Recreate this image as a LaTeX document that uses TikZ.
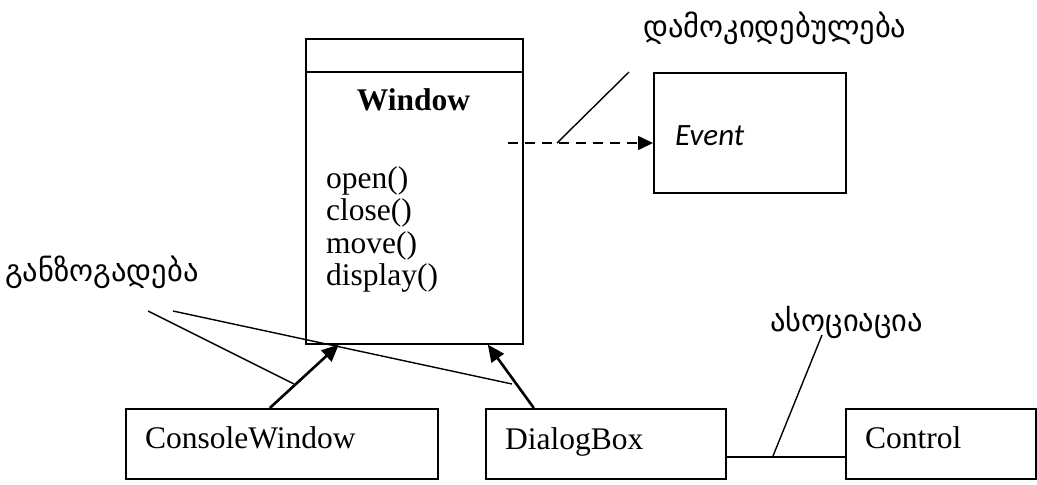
\documentclass[tikz,border=0pt]{standalone}
\usepackage{fontspec}
\setmainfont{Liberation Serif}
\newfontfamily\geofont{DejaVu Sans}
\newfontfamily\evfont{Carlito}
\usetikzlibrary{arrows.meta}
\tikzset{
  umlbox/.style={draw, line width=1.6pt, inner sep=0pt, anchor=north west},
  txt/.style={inner sep=0pt, font=\fontsize{31.5}{32.5}\selectfont},
  geolabel/.style={inner sep=0pt, anchor=base west, font=\geofont\fontsize{30.5}{33}\selectfont},
  leader/.style={line width=1.4pt},
  inherit/.style={line width=2.6pt, -{Triangle[length=17pt,width=15pt]}},
  depend/.style={line width=1.6pt, dash pattern=on 10pt off 7pt, -{Triangle[length=15pt,width=14pt]}},
  assoc/.style={line width=1.6pt}
}
\begin{document}
\begin{tikzpicture}[x=1pt,y=-1pt]
\useasboundingbox (0,0) rectangle (1037,485);

% class Window
\node[umlbox, minimum width=217pt, minimum height=305pt] (win) at (305,38) {};
\draw[line width=1.6pt] ([yshift=-34pt]win.north west) -- ([yshift=-34pt]win.north east);
\node[txt, anchor=base, font=\bfseries\fontsize{31.5}{32.5}\selectfont] (wintitle) at (413.5,110) {Window};
% operations, one line each
\node[txt, anchor=base west] (op1) at (326,188) {open()};
\node[txt, anchor=base west] (op2) at (326,220.5) {close()};
\node[txt, anchor=base west] (op3) at (326,253) {move()};
\node[txt, anchor=base west] (op4) at (326,285.5) {display()};

% class Event
\node[umlbox, minimum width=192pt, minimum height=120pt] (event) at (653,72) {};
\node[txt, anchor=base west, font=\evfont\itshape\fontsize{31}{33}\selectfont] (eventname) at (675,145) {Event};

% classes in the bottom row
\node[umlbox, minimum width=312pt, minimum height=70pt] (cw) at (125,408) {};
\node[txt, anchor=base west] (cwname) at (145,448) {ConsoleWindow};
\node[umlbox, minimum width=240pt, minimum height=70pt] (dlg) at (485,408) {};
\node[txt, anchor=base west] (dlgname) at (505,449) {DialogBox};
\node[umlbox, minimum width=190pt, minimum height=70pt] (ctrl) at (845,408) {};
\node[txt, anchor=base west] (ctrlname) at (865,448) {Control};

% dependency
\coordinate (depstart) at (508,143);
\coordinate (depknee) at (557,143);
\coordinate (deptop) at (629,72);
\draw[depend] (depstart) -- (depstart -| event.west);
\draw[leader] (depknee) -- (deptop);
\node[geolabel] (deplabel) at (643,37) {დამოკიდებულება};

% generalization
\coordinate (cwfrom) at ([xshift=-12pt]cw.north);
\coordinate (cwto) at ([xshift=-75.5pt]win.south);
\coordinate (dlgfrom) at ([xshift=-72pt]dlg.north);
\coordinate (dlgto) at ([xshift=73.5pt]win.south);
\draw[inherit] (cwfrom) -- (cwto);
\draw[inherit] (dlgfrom) -- (dlgto);
\coordinate (genA) at (148,311);
\coordinate (genB) at (173,311);
\coordinate (genAend) at (294,384);
\coordinate (genBend) at (512,384);
\draw[leader] (genA) -- (genAend);
\draw[leader] (genB) -- (genBend);
\node[geolabel] (genlabel) at (5,281) {განზოგადება};

% association
\coordinate (asA) at ([yshift=-13pt]dlg.east);
\draw[assoc] (asA) -- (asA -| ctrl.west);
\coordinate (asknee) at (773,456);
\coordinate (astop) at (822,335);
\draw[leader] (asknee) -- (astop);
\node[geolabel] (aslabel) at (770,331) {ასოციაცია};
\end{tikzpicture}
\end{document}
